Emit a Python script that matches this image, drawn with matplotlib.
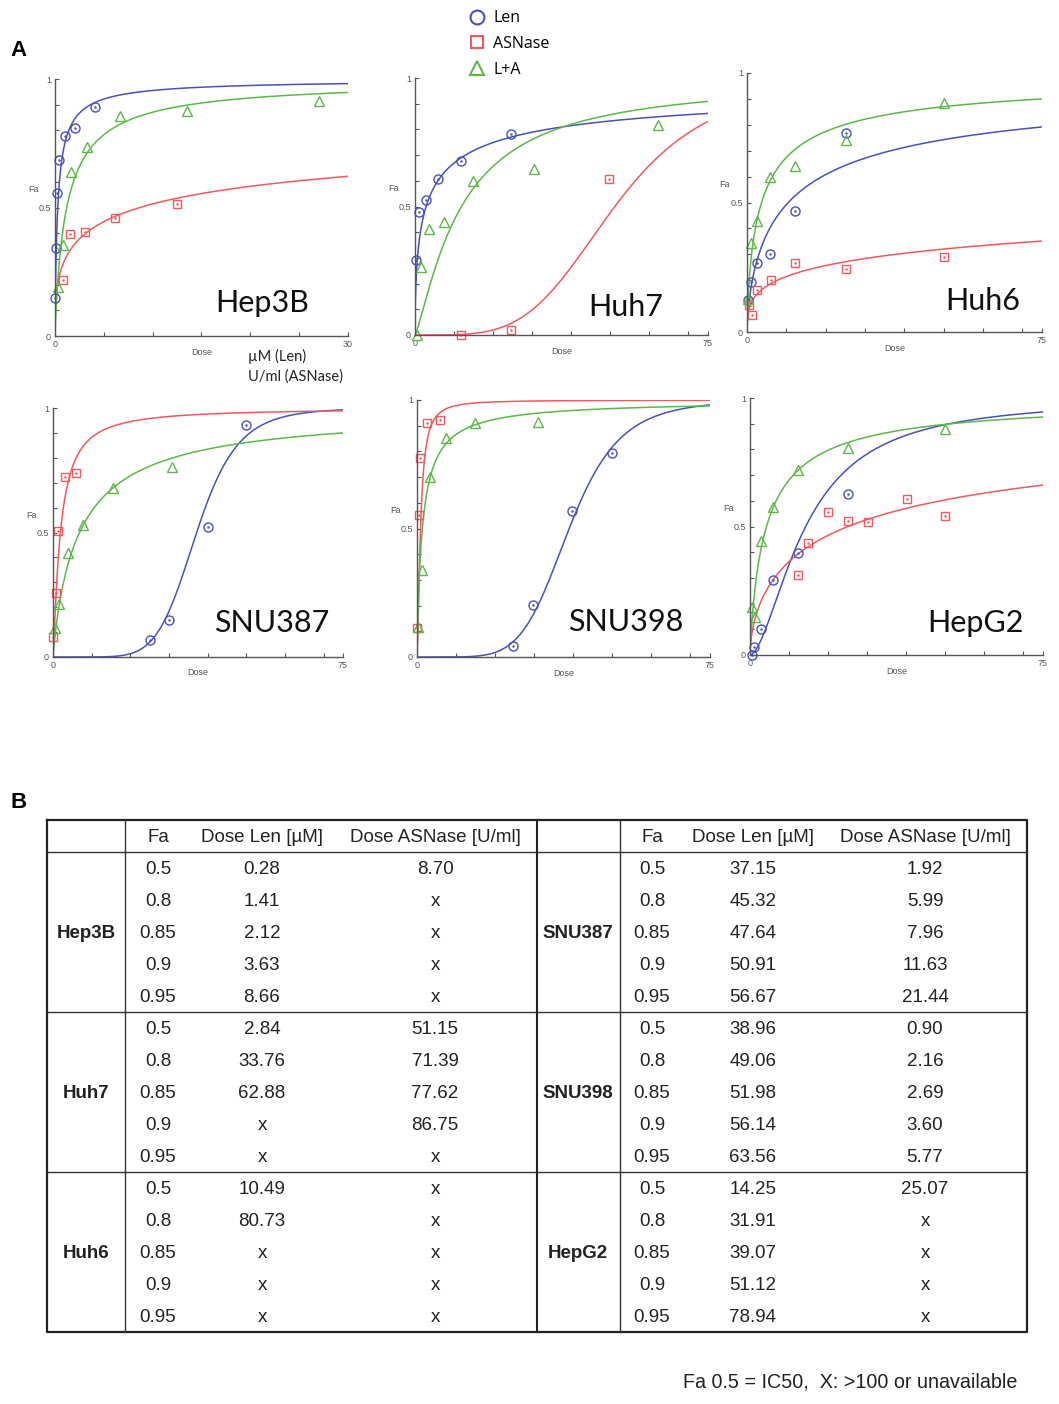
import numpy as np
import matplotlib
matplotlib.use('Agg')
import matplotlib.pyplot as plt
from matplotlib.lines import Line2D

# ---- panel A data ----
cell_lines = ['Hep3B', 'Huh7', 'Huh6', 'SNU387', 'SNU398', 'HepG2']
dose_max = [30, 75, 75, 75, 75, 75]

len_dose = [[0.02, 0.1, 0.24, 0.41, 1.02, 2.05, 4.09],
            [0.26, 1.1, 2.8, 5.8, 11.9, 24.5],
            [0.25, 1.1, 2.6, 5.9, 12.1, 25.1],
            [25.0, 30.0, 40.1, 50.0],
            [24.7, 29.7, 39.6, 50.0],
            [0.4, 1.1, 2.8, 6.0, 12.4, 25.1]]
len_fa = [[0.147, 0.342, 0.556, 0.686, 0.777, 0.809, 0.89],
          [0.292, 0.477, 0.526, 0.606, 0.678, 0.783],
          [0.125, 0.194, 0.267, 0.30, 0.468, 0.768],
          [0.067, 0.148, 0.523, 0.933],
          [0.042, 0.201, 0.569, 0.795],
          [0.0, 0.032, 0.10, 0.29, 0.396, 0.627]]

asn_dose = [[0.85, 1.53, 3.1, 6.14, 12.5],
            [11.9, 24.5, 49.7],
            [0.5, 1.3, 2.6, 6.0, 12.1, 25.1, 50.0],
            [0.05, 0.7, 1.3, 3.0, 6.0],
            [0.05, 0.6, 0.85, 2.56, 5.8],
            [12.4, 14.9, 20.0, 25.0, 30.1, 40.1, 49.9]]
asn_fa = [[0.218, 0.397, 0.405, 0.458, 0.513],
          [0.0, 0.02, 0.608],
          [0.103, 0.065, 0.161, 0.20, 0.267, 0.243, 0.29],
          [0.08, 0.258, 0.507, 0.722, 0.738],
          [0.114, 0.552, 0.775, 0.909, 0.922],
          [0.312, 0.435, 0.558, 0.523, 0.516, 0.606, 0.542]]

comb_dose = [[0.34, 0.85, 1.6, 3.3, 6.7, 13.5, 27.0],
             [0.6, 1.45, 3.6, 7.4, 14.9, 30.5, 62.2],
             [0.25, 1.1, 2.6, 5.9, 12.1, 25.1, 50.0],
             [0.43, 1.55, 3.9, 7.8, 15.5, 30.9],
             [0.17, 1.3, 3.4, 7.5, 14.9, 30.9],
             [0.4, 1.3, 2.8, 6.0, 12.4, 25.1, 49.9]]
comb_fa = [[0.192, 0.355, 0.64, 0.735, 0.855, 0.874, 0.913],
           [0.0, 0.266, 0.412, 0.438, 0.601, 0.645, 0.818],
           [0.129, 0.345, 0.428, 0.60, 0.639, 0.742, 0.884],
           [0.118, 0.212, 0.419, 0.53, 0.678, 0.762],
           [0.117, 0.338, 0.699, 0.851, 0.909, 0.916],
           [0.188, 0.149, 0.445, 0.575, 0.721, 0.805, 0.879]]

# median-effect fit parameters (Dm, m) of the drawn curves
len_dm = [0.28, 2.84, 10.49, 37.15, 38.96, 14.25]
len_m = [0.857, 0.56, 0.679, 6.97, 6.01, 1.72]
asn_dm = [8.70, 51.15, 457.0, 1.92, 0.90, 25.07]
asn_m = [0.40, 4.16, 0.34, 1.218, 1.583, 0.61]
comb_dm = [1.2, 11.9, 3.7, 6.86, 1.37, 4.22]
comb_m = [0.9, 1.25, 0.73, 0.919, 0.938, 0.878]

# ---- panel B data ----
fa_levels = ['0.5', '0.8', '0.85', '0.9', '0.95']
tbl_left = ['Hep3B', 'Huh7', 'Huh6']
tbl_right = ['SNU387', 'SNU398', 'HepG2']
tbl_len = {'Hep3B': ['0.28', '1.41', '2.12', '3.63', '8.66'],
           'Huh7': ['2.84', '33.76', '62.88', 'x', 'x'],
           'Huh6': ['10.49', '80.73', 'x', 'x', 'x'],
           'SNU387': ['37.15', '45.32', '47.64', '50.91', '56.67'],
           'SNU398': ['38.96', '49.06', '51.98', '56.14', '63.56'],
           'HepG2': ['14.25', '31.91', '39.07', '51.12', '78.94']}
tbl_asn = {'Hep3B': ['8.70', 'x', 'x', 'x', 'x'],
           'Huh7': ['51.15', '71.39', '77.62', '86.75', 'x'],
           'Huh6': ['x', 'x', 'x', 'x', 'x'],
           'SNU387': ['1.92', '5.99', '7.96', '11.63', '21.44'],
           'SNU398': ['0.90', '2.16', '2.69', '3.60', '5.77'],
           'HepG2': ['25.07', 'x', 'x', 'x', 'x']}

BLUE = '#4651bd'
RED = '#f05a5e'
GREEN = '#5cb84a'
GRAY = '#555555'

W, H = 1059, 1404
fig = plt.figure(figsize=(W / 100, H / 100), dpi=100)

# pixel boxes of the six plots: left, right, top (fa=1), bottom (fa=0)
boxes = [(55, 348, 79, 336), (415, 708, 78, 335), (747, 1042, 73, 332),
         (53, 343, 408, 657), (417, 710, 400, 657), (750, 1043, 398, 655)]
name_pos = [(0.706, 0.13), (0.72, 0.11), (0.80, 0.12),
            (0.755, 0.137), (0.713, 0.137), (0.77, 0.125)]


def median_effect(d, dm, m):
    return 1.0 / (1.0 + (dm / d) ** m)


for i, name in enumerate(cell_lines):
    l, r, t, b = boxes[i]
    ax = fig.add_axes([l / W, 1 - b / H, (r - l) / W, (b - t) / H])
    xmax = dose_max[i]
    xs = np.concatenate([np.geomspace(xmax * 1e-4, xmax * 0.01, 200),
                         np.linspace(xmax * 0.01, xmax, 500)])

    ax.plot(xs, median_effect(xs, len_dm[i], len_m[i]), color=BLUE, lw=1.1)
    ax.plot(xs, median_effect(xs, asn_dm[i], asn_m[i]), color=RED, lw=1.1)
    ax.plot(xs, median_effect(xs, comb_dm[i], comb_m[i]), color=GREEN, lw=1.1)

    ax.plot(len_dose[i], len_fa[i], 'o', mfc='none', mec=BLUE, ms=6.5, mew=1, clip_on=False)
    ax.plot(len_dose[i], len_fa[i], '.', color=BLUE, ms=1.5, clip_on=False)
    ax.plot(asn_dose[i], asn_fa[i], 's', mfc='none', mec=RED, ms=6, mew=1, clip_on=False)
    ax.plot(asn_dose[i], asn_fa[i], '.', color=RED, ms=1.5, clip_on=False)
    ax.plot(comb_dose[i], comb_fa[i], '^', mfc='none', mec=GREEN, ms=6.5, mew=1, clip_on=False)

    ax.set_xlim(0, xmax)
    ax.set_ylim(0, 1)
    for s in ['top', 'right']:
        ax.spines[s].set_visible(False)
    for s in ['left', 'bottom']:
        ax.spines[s].set_color(GRAY)
        ax.spines[s].set_linewidth(1)

    yt = np.round(np.arange(0, 1.01, 0.1), 2)
    ax.set_yticks(yt)
    ax.set_yticklabels(['0' if v == 0 else '0.5' if v == 0.5 else '1' if v == 1 else '' for v in yt])
    step = 5 if xmax == 30 else 10
    xt = list(np.arange(0, xmax, step)) + [xmax]
    ax.set_xticks(xt)
    ax.set_xticklabels(['0'] + [''] * (len(xt) - 2) + [str(xmax)])
    ax.tick_params(direction='in', length=3, width=0.8, color=GRAY, labelcolor=GRAY,
                   labelsize=6.5, pad=3)
    for lab in ax.get_xticklabels() + ax.get_yticklabels():
        lab.set_family('Liberation Sans')

    ax.text(-0.075, 0.57, 'Fa', transform=ax.transAxes, ha='center', va='center',
            fontsize=6.5, color=GRAY, family='Liberation Sans')
    ax.text(0.5, -0.045, 'Dose', transform=ax.transAxes, ha='center', va='top',
            fontsize=6.5, color=GRAY, family='Liberation Sans')
    ax.text(name_pos[i][0], name_pos[i][1], name, transform=ax.transAxes,
            ha='center', va='center', fontsize=22, color='#111111', family='Lato')

fig.text(248 / W, 1 - 366 / H, 'µM (Len)\nU/ml (ASNase)', ha='left', va='center',
         fontsize=10.5, color='#222222', family='Lato', linespacing=1.5)

# legend
handles = [Line2D([], [], ls='none', marker='o', mfc='none', mec=BLUE, ms=10, mew=1.5),
           Line2D([], [], ls='none', marker='s', mfc='none', mec=RED, ms=9, mew=1.5),
           Line2D([], [], ls='none', marker='^', mfc='none', mec=GREEN, ms=10, mew=1.5)]
fig.legend(handles, ['Len', 'ASNase', 'L+A'], loc='upper left',
           bbox_to_anchor=(458 / W, 1 + 1 / H), frameon=False,
           prop={'family': 'Open Sans', 'size': 11.5}, handlelength=1.0,
           handletextpad=0.5, labelspacing=0.62, borderpad=0.2)

fig.text(10 / W, 1 - 51 / H, 'A', fontsize=16, fontweight='bold', family='Liberation Sans',
         va='center', ha='left')
fig.text(10 / W, 1 - 803 / H, 'B', fontsize=16, fontweight='bold', family='Liberation Sans',
         va='center', ha='left')

# ---- panel B table, drawn in pixel coordinates ----
tax = fig.add_axes([0, 0, 1, 1], zorder=-1)
tax.set_xlim(0, W)
tax.set_ylim(H, 0)
tax.axis('off')

x0, x1, y0, y1 = 47, 1027, 820, 1332
head_y = 852
row_h = 32
LC = '#333333'
tax.plot([x0, x1, x1, x0, x0], [y0, y0, y1, y1, y0], color='#222222', lw=1.6)
tax.plot([x0, x1], [head_y, head_y], color=LC, lw=1.0)
for g in range(1, 3):
    yy = head_y + g * 5 * row_h
    tax.plot([x0, x1], [yy, yy], color=LC, lw=1.0)
tax.plot([125, 125], [y0, y1], color=LC, lw=1.0)
tax.plot([537, 537], [y0, y1], color='#222222', lw=1.5)
tax.plot([620, 620], [y0, y1], color=LC, lw=1.0)

tfont = dict(family='Liberation Sans', fontsize=13.5, color='#222222',
             ha='center', va='center')
col_sets = [(tbl_left, (86, 158, 262, 435)), (tbl_right, (578, 652, 753, 925))]
for names, cols in col_sets:
    tax.text(cols[1], (y0 + head_y) / 2 + 1, 'Fa', **tfont)
    tax.text(cols[2], (y0 + head_y) / 2 + 1, 'Dose Len [µM]', **tfont)
    tax.text(cols[3], (y0 + head_y) / 2 + 1, 'Dose ASNase [U/ml]', **tfont)
    for g, nm in enumerate(names):
        gy = head_y + g * 5 * row_h
        tax.text(cols[0], gy + 2.5 * row_h + 1, nm, fontweight='bold', **tfont)
        for k in range(5):
            ry = gy + (k + 0.5) * row_h + 1.5
            tax.text(cols[1], ry, fa_levels[k], **tfont)
            tax.text(cols[2], ry, tbl_len[nm][k], **tfont)
            tax.text(cols[3], ry, tbl_asn[nm][k], **tfont)

tax.text(1017, 1382, 'Fa 0.5 = IC50,  X: >100 or unavailable', family='Liberation Sans',
         fontsize=14.2, color='#222222', ha='right', va='center')

fig.savefig('out.png', dpi=100)
